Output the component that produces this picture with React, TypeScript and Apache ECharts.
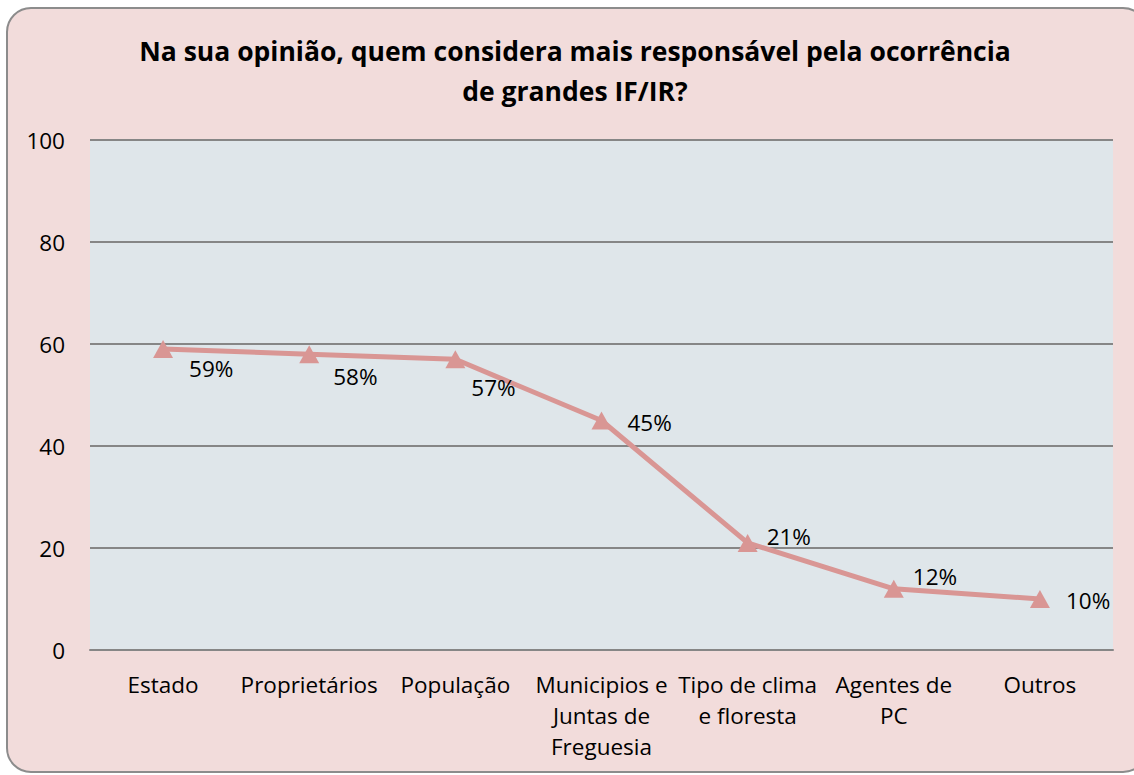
import React, { useEffect, useRef } from "react";
import * as echarts from "echarts";

const categories = [
  "Estado",
  "Proprietários",
  "População",
  "Municipios e\nJuntas de\nFreguesia",
  "Tipo de clima\ne floresta",
  "Agentes de\nPC",
  "Outros",
];
const values = [59, 58, 57, 45, 21, 12, 10];
const labelOffsets: [number, number][] = [
  [11, 19],
  [9, 22],
  [1, 28],
  [11, 2],
  [4, -6],
  [4, -12],
  [11, 1],
];
const yTicks = { min: 0, max: 100, interval: 20 };
const titleText = "Na sua opinião, quem considera mais responsável pela ocorrência\nde grandes IF/IR?";

const FONT = "'Open Sans', sans-serif";

export default function App() {
  const ref = useRef<HTMLDivElement>(null);
  useEffect(() => {
    if (!ref.current) return;
    const chart = echarts.init(ref.current, undefined, { renderer: "svg" });
    chart.setOption({
      animation: false,
      backgroundColor: "#ffffff",
      graphic: [
        {
          type: "rect",
          z: -10,
          shape: { x: 7, y: 8, width: 1140, height: 764, r: 24 },
          style: { fill: "#f2dcdb", stroke: "#8c8c8c", lineWidth: 2 },
        },
      ],
      title: {
        text: titleText,
        left: 570,
        top: 26,
        textAlign: "center",
        textStyle: {
          fontFamily: FONT,
          fontWeight: "bold",
          fontSize: 26.5,
          lineHeight: 40,
          color: "#000",
        },
      },
      grid: {
        left: 90,
        right: 21,
        top: 140,
        bottom: 125,
        show: true,
        backgroundColor: "#dfe6ea",
        borderWidth: 0,
      },
      xAxis: {
        type: "category",
        data: categories,
        boundaryGap: true,
        axisLine: { show: true, lineStyle: { color: "#868686", width: 2 } },
        axisTick: { show: false },
        axisLabel: {
          interval: 0,
          margin: 19,
          fontFamily: FONT,
          fontSize: 22.5,
          lineHeight: 31,
          color: "#000",
          align: "center",
        },
      },
      yAxis: {
        type: "value",
        min: yTicks.min,
        max: yTicks.max,
        interval: yTicks.interval,
        axisLine: { show: false },
        axisTick: { show: false },
        splitLine: { show: true, lineStyle: { color: "#868686", width: 2 } },
        axisLabel: {
          margin: 25,
          fontFamily: FONT,
          fontSize: 22.5,
          color: "#000",
        },
      },
      series: [
        {
          type: "line",
          data: values.map((v, i) => ({
            value: v,
            label: { offset: labelOffsets[i] },
          })),
          symbol: "triangle",
          symbolSize: [20, 18],
          lineStyle: { color: "#d99694", width: 5 },
          itemStyle: { color: "#d99694" },
          label: {
            show: true,
            position: "right",
            distance: 5,
            formatter: "{c}%",
            fontFamily: FONT,
            fontSize: 22.5,
            color: "#000",
          },
        },
      ],
    });
    return () => chart.dispose();
  }, []);
  return (
    <div
      ref={ref}
      style={{ position: "absolute", left: 0, top: 0, width: 1134, height: 775 }}
    />
  );
}
